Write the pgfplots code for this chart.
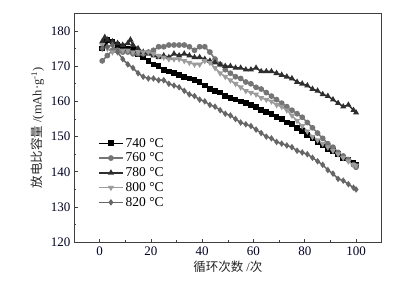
\documentclass[border=0pt]{standalone}
\usepackage{fontspec}
\setmainfont{Liberation Serif}
\newfontfamily\cjk{Noto Sans CJK SC}
\usepackage{pgfplots}
\pgfplotsset{compat=1.18}
\definecolor{c740}{HTML}{000000}
\definecolor{c760}{HTML}{757575}
\definecolor{c780}{HTML}{2E2E2E}
\definecolor{c800}{HTML}{9C9C9C}
\definecolor{c820}{HTML}{666666}
\definecolor{axc}{HTML}{404040}
\begin{document}
\begin{tikzpicture}
\begin{axis}[name=ax,
  scale only axis, width=307.7pt, height=229pt,
  xmin=-10, xmax=110, ymin=120, ymax=185,
  xtick={0,20,...,100}, minor xtick={10,30,...,90},
  ytick={120,130,...,180}, minor ytick={125,135,...,175},
  xtick pos=bottom, ytick pos=left, tick align=inside,
  major tick length=3.5pt, minor tick length=2pt,
  every tick/.style={axc, line width=0.7pt},
  axis line style={axc, line width=0.8pt},
  /pgf/number format/assume math mode=true,
  ticklabel style={font=\fontsize{13}{14}\selectfont, text=black!85!blue},
  xticklabel style={yshift=-1pt},
  xlabel={{\cjk 循环次数} /{\cjk 次}},
  ylabel={{\cjk 放电比容量} /(mAh·g\textsuperscript{-1})},
  label style={font=\fontsize{12.5}{14}\selectfont, text=black!85},
  xlabel style={yshift=1pt},
  ylabel style={yshift=0pt},
  legend style={draw=none, fill=none, at={(0.078,0.465)}, anchor=north west,
    font=\fontsize{13.5}{14}\selectfont, row sep=0.3pt, inner sep=0pt},
  legend cell align=left,
  legend image code/.code={\draw[#1, mark repeat=2, mark phase=2] plot coordinates {(0pt,0pt) (12pt,0pt) (24pt,0pt)};},
  every axis plot/.append style={line width=1.5pt, mark size=2.1pt},
]
\addplot[c740, mark=square*] coordinates {
(1,175)(2,176.5)(3,177.5)(5,177)(7,176)(9,175.5)(11,175)(13,174.5)(15,173.5)(17,172.5)(19,171.5)(21,170.5)(23,170)(25,169)(27,168.5)(29,168)(31,167.5)(33,167)(35,166.5)(37,166)(39,165.5)(41,164.5)(43,163.5)(45,163)(47,162.5)(49,161.5)(51,161)(53,160.5)(55,160)(57,159.5)(59,159)(61,158.5)(63,157.5)(65,157)(67,156.5)(69,155.5)(71,155)(73,154)(75,153.5)(77,152.5)(79,151.5)(81,150.5)(83,149.5)(85,148.5)(87,147.5)(89,146.5)(91,146)(93,145)(95,144)(97,143.5)(99,142.5)(100,142)
};
\addlegendentry{740 °C}
\addplot[c760, mark=*] coordinates {
(1,171.5)(3,173)(5,174.5)(7,174.5)(9,174)(11,174)(13,173.5)(15,173.5)(17,173.5)(19,174)(21,174.5)(23,175.5)(25,175.5)(27,176)(29,176)(31,176)(33,176)(35,175.5)(37,174.5)(39,175.5)(41,175.5)(43,174)(45,172)(47,170.5)(49,169)(51,168)(53,167)(55,166.5)(57,165.5)(59,165)(61,164)(63,163.5)(65,162.5)(67,161.5)(69,160.5)(71,159.5)(73,158.5)(75,157.5)(77,156.5)(79,155.5)(81,154)(83,152.5)(85,151)(87,149.5)(89,148)(91,147)(93,145.5)(95,144.5)(97,143.5)(99,142)(100,141.3)
};
\addlegendentry{760 °C}
\addplot[c780, mark=triangle*] coordinates {
(1,177)(2,178.2)(3,177.5)(5,177)(7,176.5)(9,176)(11,176.5)(12,177.5)(13,176)(15,175)(17,174)(19,173.5)(21,173)(23,172.5)(25,173)(27,172.5)(29,173.5)(31,173)(33,173.5)(35,173)(37,172.5)(39,172.5)(41,172)(43,171.5)(45,171)(47,170.5)(49,170)(51,170)(53,169.5)(55,169.5)(57,169)(59,169)(61,169.5)(63,168.5)(65,168.5)(67,168.5)(69,168)(71,167.5)(73,167)(75,166.5)(77,165.5)(79,165)(81,164.5)(83,163.5)(85,163)(87,162)(89,161.5)(91,160.5)(93,159.5)(95,158.5)(97,159)(99,157.5)(100,156.8)
};
\addlegendentry{780 °C}
\addplot[c800, mark=triangle*, mark options={rotate=180}] coordinates {
(1,176)(3,175)(5,174)(7,174)(9,174.5)(11,174.5)(13,174)(15,174)(17,174)(19,174)(21,173.5)(23,173)(25,172.5)(27,172)(29,172)(31,172)(33,171.5)(35,171)(37,170.5)(39,170.5)(41,171.5)(43,171)(45,169.5)(47,168)(49,167)(51,166)(53,165)(55,164)(57,163)(59,162.5)(61,162)(63,161)(65,160.5)(67,160)(69,159)(71,158.5)(73,157.5)(75,156)(77,154.5)(79,153)(81,151.5)(83,150)(85,149)(87,148)(89,147)(91,146)(93,145)(95,144)(97,143)(99,142)(100,141.8)
};
\addlegendentry{800 °C}
\addplot[c820, mark=diamond*] coordinates {
(1,175)(3,175.5)(5,176)(7,174)(9,172)(11,170.5)(13,169.5)(15,168)(17,167)(19,166.5)(21,166.5)(23,166)(25,166)(27,165)(29,164.5)(31,164)(33,163)(35,162)(37,161.5)(39,160.5)(41,160)(43,159)(45,158.5)(47,157.5)(49,156.5)(51,156)(53,155)(55,154)(57,153.5)(59,153)(61,152)(63,151)(65,150)(67,149.5)(69,148.5)(71,148)(73,147.5)(75,147)(77,146)(79,145.5)(81,145)(83,144)(85,143)(87,142)(89,140.5)(91,139.5)(93,138)(95,137.5)(97,136.5)(99,135.5)(100,135)
};
\addlegendentry{820 °C}
\end{axis}
\path ([shift={(-74pt,-42.7pt)}]ax.south west) rectangle ([shift={(337pt,242.3pt)}]ax.south west);
\end{tikzpicture}
\end{document}
